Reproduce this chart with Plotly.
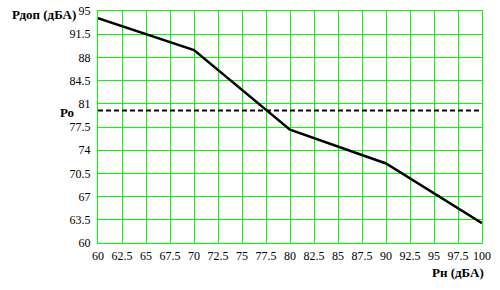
import plotly.graph_objects as go

# Data
rn = [60, 70, 80, 90, 100]
rdop = [93.9, 89.1, 77.1, 72.0, 63.0]
po = 80.0
x_ticks = [60 + 2.5 * i for i in range(17)]
y_ticks = [60 + 3.5 * i for i in range(11)]

def fmt(v):
    return ("%g" % v)

SERIF = "Liberation Serif"

fig = go.Figure()
fig.add_trace(go.Scatter(x=rn, y=rdop, mode="lines",
                         line=dict(color="black", width=2.5), showlegend=False))
fig.add_trace(go.Scatter(x=[x_ticks[0], x_ticks[-1]], y=[po, po], mode="lines",
                         line=dict(color="black", width=2, dash="5px,3px"), showlegend=False))

grid = "#00FF00"
fig.update_layout(
    width=500, height=290,
    margin=dict(l=98, r=18, t=4, b=47),
    paper_bgcolor="white", plot_bgcolor="white",
    font=dict(family=SERIF, size=12, color="black"),
)
fig.update_xaxes(range=[60, 100], tickvals=x_ticks, ticktext=[fmt(v) for v in x_ticks],
                 tickangle=0,
                 showgrid=True, gridcolor=grid, gridwidth=1.3,
                 showline=True, linecolor=grid, linewidth=1.3, mirror=True,
                 zeroline=False, ticks="outside", ticklen=1, tickcolor="rgba(0,0,0,0)",
                 ticklabeloverflow="allow")
fig.update_yaxes(range=[60, 95], tickvals=y_ticks, ticktext=[fmt(v) for v in y_ticks],
                 showgrid=True, gridcolor=grid, gridwidth=1.3,
                 showline=True, linecolor=grid, linewidth=1.3, mirror=True,
                 zeroline=False, ticks="outside", ticklen=4, tickcolor="rgba(0,0,0,0)",
                 ticklabeloverflow="allow")

bold = dict(family=SERIF, size=13, color="black", weight="bold")
fig.add_annotation(text="Рдоп (дБА)", xref="paper", yref="paper",
                   x=-0.23, y=0.985, xanchor="left", yanchor="middle",
                   showarrow=False, font=bold)
fig.add_annotation(text="Ро", xref="paper", yref="y",
                   x=-0.057, y=po, xanchor="right", yanchor="middle",
                   showarrow=False, font=bold, yshift=-2)
fig.add_annotation(text="Рн (дБА)", xref="paper", yref="paper",
                   x=1.01, y=-0.125, xanchor="right", yanchor="middle",
                   showarrow=False, font=bold)

fig.write_html("out.html")
